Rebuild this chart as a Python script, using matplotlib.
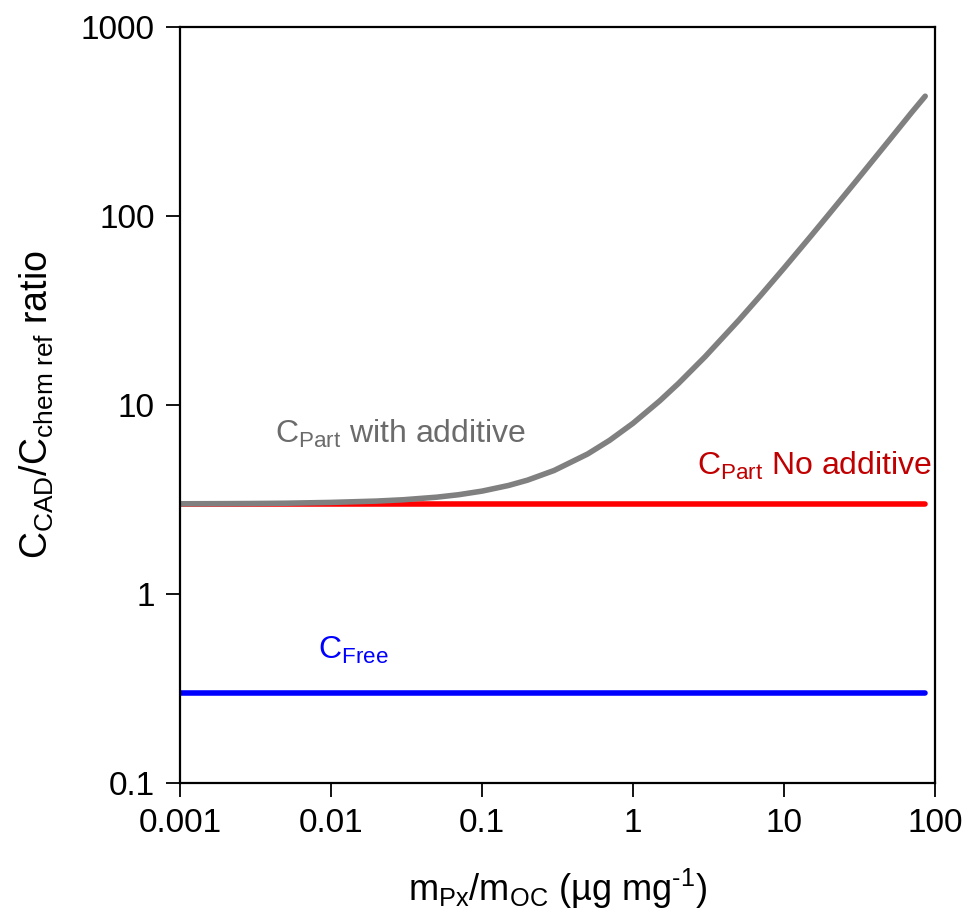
import matplotlib
matplotlib.use("Agg")
import matplotlib.pyplot as plt

plt.rcParams['font.family'] = ['Liberation Sans', 'DejaVu Sans']
plt.rcParams['mathtext.fontset'] = 'custom'
plt.rcParams['mathtext.rm'] = 'Liberation Sans'
plt.rcParams['mathtext.it'] = 'Liberation Sans'
plt.rcParams['mathtext.default'] = 'regular'

# data
mass_ratio = [0.001, 0.002, 0.003, 0.005, 0.01, 0.02, 0.03, 0.05, 0.07, 0.1, 0.15, 0.2, 0.3,
              0.5, 0.7, 1, 1.5, 2, 3, 5, 7, 10, 15, 20, 30, 50, 70, 86]
c_part_additive = [3.0, 3.005, 3.01, 3.02, 3.05, 3.1, 3.15, 3.25, 3.35, 3.5, 3.75, 4.0, 4.5,
                   5.5, 6.5, 8, 10.5, 13, 18, 28, 38, 53, 78, 103, 153, 253, 353, 430]
flat_x = [0.001, 86]
c_part_none = [3.0, 3.0]
c_free = [0.3, 0.3]

xticks = [0.001, 0.01, 0.1, 1, 10, 100]
xticklabels = ['0.001', '0.01', '0.1', '1', '10', '100']
yticks = [0.1, 1, 10, 100, 1000]
yticklabels = ['0.1', '1', '10', '100', '1000']

fig = plt.figure(figsize=(9.65, 9.22), dpi=100)
ax = fig.add_axes([0.1865, 0.1508, 0.7825, 0.82])

ax.plot(flat_x, c_free, color='#0000ff', lw=4, solid_capstyle='round')
ax.plot(flat_x, c_part_none, color='#ff0000', lw=4, solid_capstyle='round')
ax.plot(mass_ratio, c_part_additive, color='#808080', lw=4, solid_capstyle='round',
        solid_joinstyle='round')

ax.set_xscale('log')
ax.set_yscale('log')
ax.set_xlim(0.001, 100)
ax.set_ylim(0.1, 1000)
ax.set_xticks(xticks)
ax.set_xticklabels(xticklabels)
ax.set_yticks(yticks)
ax.set_yticklabels(yticklabels)
ax.minorticks_off()
ax.tick_params(direction='out', length=10, width=1.3, labelsize=24, pad=8)
for s in ax.spines.values():
    s.set_linewidth(1.6)

ax.text(0.00426, 6.28, r'C$_{Part}$ with additive', color='#6b6b6b', fontsize=23,
        ha='left', va='baseline')
ax.text(2.65, 4.26, r'C$_{Part}$ No additive', color='#c00000', fontsize=23,
        ha='left', va='baseline')
ax.text(0.0082, 0.455, r'C$_{Free}$', color='#0000ff', fontsize=23,
        ha='left', va='baseline')

ax.set_ylabel(r'C$_{CAD}$/C$_{chem\ ref}$ ratio', fontsize=27, labelpad=18)
ax.set_xlabel(r'm$_{Px}$/m$_{OC}$ (µg mg$^{\text{-1}}$)', fontsize=26, labelpad=20)

fig.savefig('out.png', dpi=100)
